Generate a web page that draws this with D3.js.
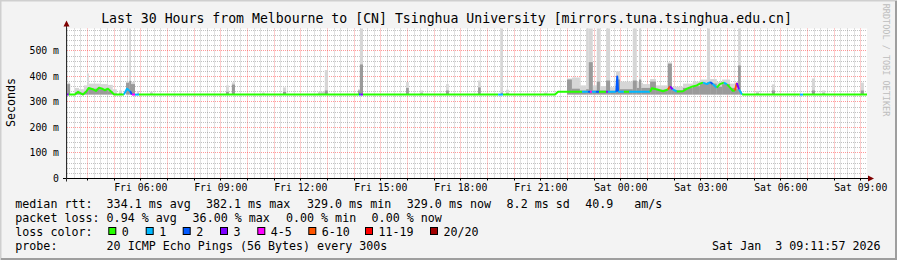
<!DOCTYPE html>
<html>
<head>
<meta charset="utf-8">
<script src="https://cdn.jsdelivr.net/npm/d3@7"></script>
<style>
  body { margin: 0; background: #fff; }
  svg text { font-family: 'DejaVu Sans Mono', monospace; fill: #000; white-space: pre; }
</style>
</head>
<body>
<svg id="chart" width="897" height="260"></svg>
<script>
// ---- data ----
const lossLabels = ['0', '1', '2', '3', '4-5', '6-10', '11-19', '20/20'];

// median rtt (ms), each point with its loss class (index into lossLabels)
const medianTimes = [
  'Fri 03:14', 'Fri 03:18', 'Fri 03:32', 'Fri 03:39', 'Fri 03:45', 'Fri 03:50', 'Fri 03:57', 'Fri 04:03', 'Fri 04:12', 'Fri 04:19',
  'Fri 04:26', 'Fri 04:33', 'Fri 04:39', 'Fri 04:46', 'Fri 04:53', 'Fri 05:00', 'Fri 05:22', 'Fri 05:29', 'Fri 05:36', 'Fri 05:40',
  'Fri 05:47', 'Fri 05:56', 'Fri 14:11', 'Fri 14:15', 'Fri 14:20', 'Fri 19:24', 'Fri 19:35', 'Fri 21:32', 'Fri 21:39', 'Fri 22:33',
  'Fri 22:46', 'Fri 22:51', 'Fri 22:55', 'Fri 23:04', 'Fri 23:11', 'Fri 23:27', 'Fri 23:31', 'Fri 23:50', 'Fri 23:52', 'Fri 23:54',
  'Sat 00:07', 'Sat 00:19', 'Sat 01:06', 'Sat 01:10', 'Sat 01:22', 'Sat 01:35', 'Sat 01:46', 'Sat 01:51', 'Sat 01:57', 'Sat 02:06',
  'Sat 02:20', 'Sat 02:29', 'Sat 02:36', 'Sat 02:42', 'Sat 02:51', 'Sat 02:58', 'Sat 03:05', 'Sat 03:14', 'Sat 03:21', 'Sat 03:27',
  'Sat 03:36', 'Sat 03:43', 'Sat 03:52', 'Sat 03:59', 'Sat 04:06', 'Sat 04:12', 'Sat 04:17', 'Sat 04:21', 'Sat 04:26', 'Sat 04:33',
  'Sat 06:43', 'Sat 06:50', 'Sat 09:14'
];
const medianValues = [
  329, 329, 329, 340, 334, 329, 340, 355, 350, 343,
  356, 352, 346, 352, 341, 329, 329, 352, 342, 329,
  329, 329, 329, 329, 329, 329, 329, 329, 340, 340,
  340, 340, 340, 340, 340, 340, 340, 340, 400, 340,
  340, 340, 340, 354, 349, 342, 349, 361, 349, 341,
  342, 352, 357, 361, 365, 372, 376, 370, 378, 370,
  356, 370, 376, 369, 356, 344, 345, 375, 349, 329,
  329, 329, 329
];
const medianLoss = [
  3, 0, 0, 0, 0, 0, 0, 0, 0, 0,
  0, 0, 0, 0, 0, 0, 1, 1, 2, 4,
  1, 0, 2, 3, 0, 1, 0, 0, 0, 1,
  2, 4, 1, 2, 0, 3, 1, 2, 2, 1,
  0, 1, 0, 0, 0, 0, 5, 3, 1, 0,
  0, 0, 0, 0, 0, 0, 1, 1, 2, 1,
  0, 0, 1, 0, 0, 0, 5, 3, 1, 0,
  1, 0, 0
];

// smoke: spread of the 20 pings per interval (ms)
const rttFloor = 329;
const smokeStart = [
  'Fri 03:14', 'Fri 03:32', 'Fri 03:41', 'Fri 03:52', 'Fri 03:59', 'Fri 04:03', 'Fri 04:28', 'Fri 04:46', 'Fri 04:57', 'Fri 05:11',
  'Fri 05:27', 'Fri 05:34', 'Fri 05:38', 'Fri 05:52', 'Fri 06:21', 'Fri 09:12', 'Fri 09:25', 'Fri 10:33', 'Fri 11:20', 'Fri 12:39',
  'Fri 12:54', 'Fri 14:09', 'Fri 14:13', 'Fri 15:57', 'Fri 16:28', 'Fri 17:27', 'Fri 18:39', 'Fri 19:30', 'Fri 19:42', 'Fri 21:07',
  'Fri 21:59', 'Fri 22:10', 'Fri 22:28', 'Fri 22:42', 'Fri 22:48', 'Fri 22:57', 'Fri 23:06', 'Fri 23:13', 'Fri 23:27', 'Fri 23:36',
  'Fri 23:49', 'Fri 23:58', 'Sat 00:27', 'Sat 00:36', 'Sat 00:41', 'Sat 00:46', 'Sat 00:50', 'Sat 01:06', 'Sat 01:19', 'Sat 01:46',
  'Sat 01:55', 'Sat 02:20', 'Sat 02:42', 'Sat 02:58', 'Sat 03:14', 'Sat 03:21', 'Sat 03:36', 'Sat 03:48', 'Sat 04:06', 'Sat 04:17',
  'Sat 04:24', 'Sat 05:04', 'Sat 05:40', 'Sat 07:10', 'Sat 07:33', 'Sat 09:00'
];
const smokeEnd = [
  'Fri 03:21', 'Fri 03:41', 'Fri 03:52', 'Fri 03:59', 'Fri 04:03', 'Fri 04:28', 'Fri 04:46', 'Fri 04:57', 'Fri 05:06', 'Fri 05:18',
  'Fri 05:34', 'Fri 05:38', 'Fri 05:47', 'Fri 05:56', 'Fri 06:27', 'Fri 09:18', 'Fri 09:32', 'Fri 10:39', 'Fri 11:27', 'Fri 12:54',
  'Fri 13:01', 'Fri 14:13', 'Fri 14:20', 'Fri 16:03', 'Fri 16:35', 'Fri 17:33', 'Fri 18:45', 'Fri 19:35', 'Fri 19:48', 'Fri 21:14',
  'Fri 22:10', 'Fri 22:28', 'Fri 22:42', 'Fri 22:48', 'Fri 22:57', 'Fri 23:06', 'Fri 23:13', 'Fri 23:27', 'Fri 23:36', 'Fri 23:49',
  'Fri 23:58', 'Sat 00:27', 'Sat 00:36', 'Sat 00:41', 'Sat 00:46', 'Sat 00:50', 'Sat 01:06', 'Sat 01:19', 'Sat 01:46', 'Sat 01:55',
  'Sat 02:20', 'Sat 02:42', 'Sat 02:58', 'Sat 03:14', 'Sat 03:21', 'Sat 03:36', 'Sat 03:48', 'Sat 04:06', 'Sat 04:17', 'Sat 04:24',
  'Sat 04:30', 'Sat 05:11', 'Sat 05:47', 'Sat 07:17', 'Sat 07:40', 'Sat 09:07'
];
const smokeMax = [
  376, 355, 350, 365, 412, 372, 370, 367, 350, 345,
  380, 588, 378, 342, 340, 365, 377, 337, 357, 340,
  425, 350, 588, 378, 345, 370, 384, 588, 348, 337,
  392, 396, 365, 588, 588, 365, 588, 362, 588, 358,
  420, 380, 588, 380, 588, 375, 370, 390, 365, 455,
  360, 372, 380, 388, 588, 390, 378, 388, 372, 370,
  588, 342, 369, 392, 345, 376
];
const smokeMid = [
  370, 338, 336, 340, 350, 352, 350, 342, 333, 333,
  375, 383, 370, 333, 332, 340, 368, 331, 340, 332,
  345, 345, 447, 355, 333, 345, 357, 336, 334, 331,
  388, 352, 345, 350, 456, 345, 380, 345, 384, 344,
  388, 350, 384, 355, 388, 355, 355, 380, 348, 450,
  346, 355, 362, 372, 378, 372, 360, 370, 355, 350,
  443, 333, 345, 345, 333, 345
];

const medianStats = ['334.1 ms avg', '382.1 ms max', '329.0 ms min', '329.0 ms now', '8.2 ms sd', '40.9', 'am/s'];
const lossStats = ['0.94 % avg', '36.00 % max', '0.00 % min', '0.00 % now'];
const probeText = '20 ICMP Echo Pings (56 Bytes) every 300s';
const stampText = 'Sat Jan  3 09:11:57 2026';
const titleText = 'Last 30 Hours from Melbourne to [CN] Tsinghua University [mirrors.tuna.tsinghua.edu.cn]';
const yMax = 588;

// ---- drawing ----
const lossColors = ['#26ff00', '#00b8ff', '#0059ff', '#7e00ff', '#ff00ff', '#ff5500', '#ff0000', '#a10000'];

function parseTime(s){
  const [day, hm] = s.split(' ');
  const [h, m] = hm.split(':').map(Number);
  return new Date(2026, 0, day === 'Sat' ? 3 : 2, h, m);
}

function drawSmokePing(){
  const width = 897, height = 260;
  const plot = {left: 67, right: 867, top: 28.5, bottom: 178.5};

  const svg = d3.select('#chart');

  // canvas + rrdtool style border
  svg.append('rect').attr('width', width).attr('height', height).attr('fill', '#f3f3f3');
  svg.append('path').attr('d', `M0,${height} V0 H${width}`).attr('stroke', '#cfcfcf').attr('stroke-width', 3).attr('fill', 'none');
  svg.append('path').attr('d', `M1,${height - 1} H${width - 1} V1`).attr('stroke', '#9e9e9e').attr('stroke-width', 2).attr('fill', 'none');

  svg.append('rect')
    .attr('x', plot.left).attr('y', plot.top)
    .attr('width', plot.right - plot.left).attr('height', plot.bottom - plot.top)
    .attr('fill', '#fff');

  const x = d3.scaleTime()
              .domain([parseTime('Fri 03:14'), parseTime('Sat 09:14')])
              .range([plot.left, plot.right]);

  const y = d3.scaleLinear()
              .domain([0, yMax])
              .range([plot.bottom, plot.top]);

  const px = v => Math.floor(v) + 0.5;

  // grid: minor grey every 15 min / 20 ms, major red every hour / 100 ms
  const grid = svg.append('g').attr('fill', 'none').attr('stroke-dasharray', '1,1');
  const hours = x.ticks(d3.timeHour.every(1));
  const quarters = x.ticks(d3.timeMinute.every(15)).filter(d => d.getMinutes() !== 0);
  const minorY = d3.range(20, yMax, 20).filter(v => v % 100 !== 0);
  const majorY = d3.range(100, yMax, 100);

  grid.selectAll('line.vmin').data(quarters).enter().append('line')
    .attr('x1', d => px(x(d))).attr('x2', d => px(x(d)))
    .attr('y1', plot.top).attr('y2', plot.bottom)
    .attr('stroke', 'rgba(120,120,120,0.45)');
  grid.selectAll('line.hmin').data(minorY).enter().append('line')
    .attr('x1', plot.left).attr('x2', plot.right)
    .attr('y1', d => px(y(d))).attr('y2', d => px(y(d)))
    .attr('stroke', 'rgba(120,120,120,0.45)');
  grid.selectAll('line.vmaj').data(hours).enter().append('line')
    .attr('x1', d => px(x(d))).attr('x2', d => px(x(d)))
    .attr('y1', plot.top).attr('y2', plot.bottom)
    .attr('stroke', 'rgba(255,0,0,0.4)');
  grid.selectAll('line.hmaj').data(majorY).enter().append('line')
    .attr('x1', plot.left).attr('x2', plot.right)
    .attr('y1', d => px(y(d))).attr('y2', d => px(y(d)))
    .attr('stroke', 'rgba(255,0,0,0.4)');

  // smoke
  const smoke = smokeStart.map((s, i) => ({
    t0: parseTime(s), t1: parseTime(smokeEnd[i]), hi: smokeMax[i], mid: smokeMid[i]
  }));
  const smokeG = svg.append('g');
  smokeG.selectAll('rect.hi').data(smoke).enter().append('rect')
    .attr('x', d => x(d.t0)).attr('width', d => x(d.t1) - x(d.t0))
    .attr('y', d => y(d.hi)).attr('height', d => y(rttFloor) - y(d.hi))
    .attr('fill', '#d6d6d6');
  smokeG.selectAll('rect.mid').data(smoke).enter().append('rect')
    .attr('x', d => x(d.t0)).attr('width', d => x(d.t1) - x(d.t0))
    .attr('y', d => y(d.mid)).attr('height', d => y(rttFloor) - y(d.mid))
    .attr('fill', '#9a9a9a');

  // median line, coloured by packet loss
  const med = medianTimes.map((t, i) => ({t: parseTime(t), v: medianValues[i], loss: medianLoss[i]}));
  const line = d3.line().x(d => x(d.t)).y(d => y(d.v));
  const medG = svg.append('g').attr('fill', 'none').attr('stroke-width', 2).attr('stroke-linejoin', 'round');
  for (let i = 0; i < med.length - 1;){
    let j = i;
    while (j + 1 < med.length - 1 && med[j + 1].loss === med[i].loss) j++;
    medG.append('path')
      .attr('d', line(med.slice(i, j + 2)))
      .attr('stroke', lossColors[med[i].loss]);
    i = j + 1;
  }

  // axes
  const axisG = svg.append('g');
  axisG.append('line')
    .attr('x1', plot.left - 4).attr('x2', plot.right + 1)
    .attr('y1', plot.bottom).attr('y2', plot.bottom)
    .attr('stroke', '#000');
  axisG.append('line')
    .attr('x1', plot.left - 0.5).attr('x2', plot.left - 0.5)
    .attr('y1', plot.bottom + 3).attr('y2', plot.top - 3)
    .attr('stroke', '#2c2c2c');
  axisG.append('path')
    .attr('d', `M${plot.right + 1},${plot.bottom - 3} L${plot.right + 7},${plot.bottom} L${plot.right + 1},${plot.bottom + 3} Z`)
    .attr('fill', '#7f0000');
  axisG.append('path')
    .attr('d', `M${plot.left - 3.5},${plot.top - 2} L${plot.left - 0.5},${plot.top - 8} L${plot.left + 2.5},${plot.top - 2} Z`)
    .attr('fill', '#7f0000');
  axisG.selectAll('line.xt').data(hours).enter().append('line')
    .attr('x1', d => px(x(d))).attr('x2', d => px(x(d)))
    .attr('y1', plot.bottom).attr('y2', plot.bottom + 2)
    .attr('stroke', '#000');

  // tick labels
  const timeFmt = d3.timeFormat('%a %H:%M');
  svg.append('g').selectAll('text').data(x.ticks(d3.timeHour.every(3))).enter().append('text')
    .attr('x', d => x(d)).attr('y', 191)
    .attr('text-anchor', 'middle')
    .style('font-size', '9.8px')
    .text(d => timeFmt(d));

  svg.append('g').selectAll('text').data(y.ticks(6)).enter().append('text')
    .attr('x', 59).attr('y', d => px(y(d)) + 3.5)
    .attr('text-anchor', 'end')
    .style('font-size', '9.8px')
    .text(d => d === 0 ? '0' : `${d} m`);

  // titles
  svg.append('text')
    .attr('x', 446.5).attr('y', 23.3)
    .attr('text-anchor', 'middle')
    .style('font-size', '13.2px')
    .text(titleText);

  svg.append('text')
    .attr('transform', 'translate(15,102.5) rotate(-90)')
    .attr('text-anchor', 'middle')
    .style('font-size', '11.66px')
    .text('Seconds');

  svg.append('text')
    .attr('transform', 'translate(883,60) rotate(90)')
    .attr('text-anchor', 'middle')
    .style('font-size', '8.5px')
    .style('fill', '#bdbdbd')
    .text('RRDTOOL / TOBI OETIKER');

  // legend
  const leg = svg.append('g').style('font-size', '11.66px');
  const rows = [207.6, 221.7, 235.7, 249.8];
  const colX = 106.6;
  const addText = (xPos, yPos, s) => leg.append('text')
    .attr('x', xPos).attr('y', yPos)
    .attr('xml:space', 'preserve')
    .text(s);

  addText(15.3, rows[0], 'median rtt:');
  const medX = [colX, 206, 307, 406.8, 506.6, 585.3, 634.3];
  medianStats.forEach((s, i) => addText(medX[i], rows[0], s));

  addText(15.3, rows[1], 'packet loss:');
  const lossX = [colX, 192.6, 286, 371.6];
  lossStats.forEach((s, i) => addText(lossX[i], rows[1], s));

  addText(15.3, rows[2], 'loss color:');
  const boxX = [108.3, 145.7, 182.7, 220, 257.3, 308.3, 365, 430];
  lossLabels.forEach((lab, i) => {
    leg.append('rect')
      .attr('x', boxX[i] + 0.5).attr('y', 227.5)
      .attr('width', 7).attr('height', 7)
      .attr('fill', lossColors[i]).attr('stroke', '#000');
    addText(boxX[i] + 13.5, rows[2], lab);
  });

  addText(15.3, rows[3], 'probe:');
  addText(colX, rows[3], probeText);
  addText(880.5, rows[3], stampText).attr('text-anchor', 'end');
}

drawSmokePing();
</script>
</body>
</html>
